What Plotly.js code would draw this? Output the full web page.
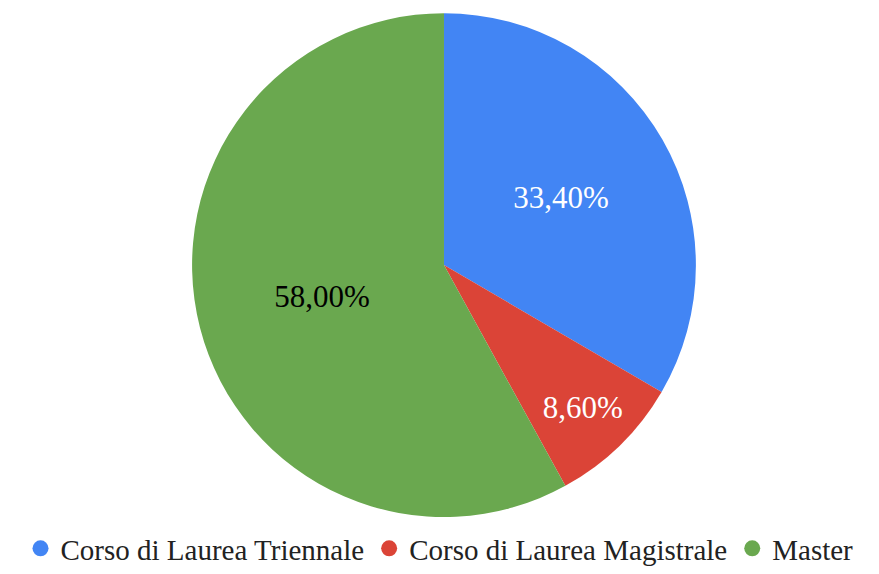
<!DOCTYPE html>
<html>
<head>
<meta charset="utf-8">
<script src="https://cdn.plot.ly/plotly-3.0.1.min.js"></script>
<style>html,body{margin:0;padding:0;background:#fff;}#chart{width:879px;height:574px;}</style>
</head>
<body>
<div id="chart"></div>
<script>
const categories = ["Corso di Laurea Triennale", "Corso di Laurea Magistrale", "Master"];
const values = [33.4, 8.6, 58.0];
const colors = ["#4285F4", "#DB4437", "#6AA84F"];
const textColors = ["#ffffff", "#ffffff", "#000000"];

const FONT = "Liberation Serif, DejaVu Serif, serif";

const traces = [{
  type: "pie",
  labels: categories,
  values: values,
  sort: false,
  direction: "clockwise",
  rotation: 0,
  marker: {colors: colors, line: {width: 0}},
  texttemplate: "%{percent:.2%}",
  textposition: "inside",
  insidetextorientation: "horizontal",
  textfont: {family: FONT, size: 31, color: textColors},
  hoverinfo: "label+percent",
  showlegend: false,
  domain: {x: [0.1638, 0.8464], y: [0.0993, 0.977]}
}];
categories.forEach((c, i) => {
  traces.push({
    type: "scatter", mode: "markers", x: [null], y: [null], name: c,
    marker: {color: colors[i], size: 20, symbol: "circle"},
    showlegend: true, hoverinfo: "skip"
  });
});

const layout = {
  width: 879, height: 574,
  margin: {l: 0, r: 0, t: 0, b: 0},
  paper_bgcolor: "#fff", plot_bgcolor: "#fff",
  separators: ",.",
  xaxis: {visible: false}, yaxis: {visible: false},
  showlegend: true,
  legend: {
    orientation: "h", x: 0.5, xanchor: "center", y: 0, yanchor: "bottom",
    font: {family: FONT, size: 29, color: "#222"},
    itemwidth: 30
  }
};
Plotly.newPlot("chart", traces, layout, {displayModeBar: false, staticPlot: true});
</script>
</body>
</html>
